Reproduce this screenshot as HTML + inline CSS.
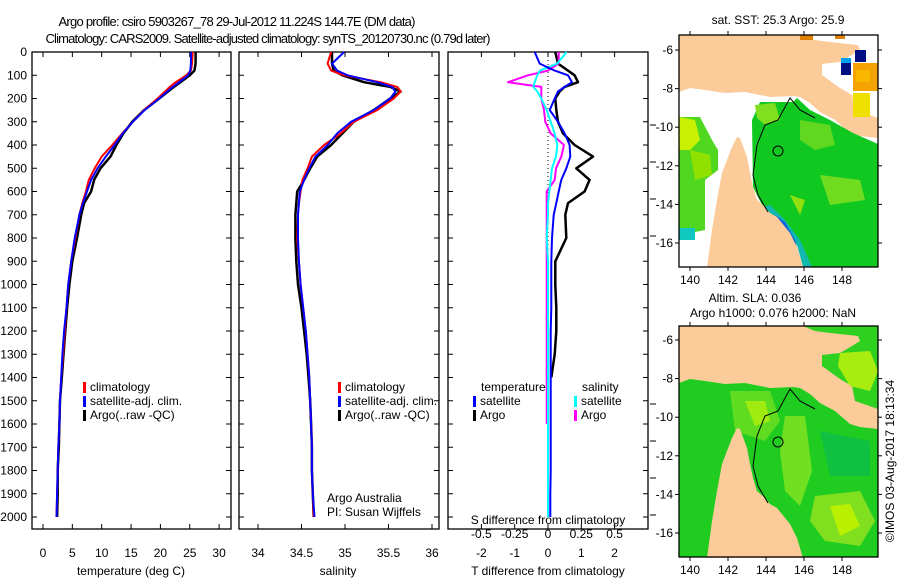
<!DOCTYPE html>
<html><head><meta charset="utf-8"><style>
html,body{margin:0;padding:0;background:#fff;}
svg{display:block;font-family:"Liberation Sans",sans-serif;}
</style></head><body>
<svg id="c" width="900" height="580" viewBox="0 0 900 580">
<g id="maps"></g>
<g id="plots"></g>
</svg>
<script>
// ---------- data ----------
const depths = [0,50,80,100,130,150,170,200,250,300,350,400,450,500,550,600,650,700,800,900,1000,1100,1200,1300,1400,1500,1600,1700,1800,1900,2000];
const tempClim = [25.5,25.4,25.2,24.4,22.6,21.6,20.8,19.5,17.2,15.3,13.5,11.8,10.0,8.8,7.8,7.3,6.7,6.2,5.5,4.8,4.3,4.0,3.7,3.4,3.1,2.9,2.8,2.6,2.5,2.4,2.3];
const tempSat = [25.2,25.2,25.1,24.7,23.2,22.1,21.2,19.8,17.3,15.3,13.6,12.2,10.7,9.3,8.2,7.5,6.8,6.2,5.4,4.8,4.3,4.0,3.6,3.3,3.1,2.9,2.8,2.6,2.5,2.4,2.3];
const tempArgo = [26.0,26.0,25.8,25.0,23.4,22.3,21.3,19.8,17.2,15.2,13.7,12.5,11.5,9.8,8.7,8.2,7.0,6.5,5.8,5.0,4.5,4.1,3.8,3.5,3.2,2.9,2.8,2.7,2.5,2.5,2.4];
const salClim = [34.84,34.80,34.84,34.99,35.41,35.60,35.64,35.56,35.37,35.10,34.95,34.76,34.62,34.57,34.51,34.49,34.47,34.46,34.45,34.47,34.49,34.52,34.55,34.57,34.59,34.60,34.61,34.62,34.62,34.63,34.64];
const salSat = [34.99,34.85,34.91,35.03,35.37,35.54,35.58,35.52,35.33,35.07,34.91,34.80,34.66,34.59,34.53,34.48,34.47,34.46,34.46,34.47,34.49,34.52,34.55,34.57,34.59,34.60,34.61,34.62,34.62,34.63,34.65];
const salArgo = [34.85,34.85,34.87,34.97,35.22,35.52,35.64,35.52,35.33,35.10,34.97,34.84,34.68,34.60,34.53,34.45,34.44,34.43,34.43,34.44,34.46,34.50,34.53,34.56,34.58,34.60,34.61,34.62,34.62,34.63,34.64];
const dTSat = [-0.4,-0.25,0.2,0.6,0.72,0.5,0.3,0.2,0.05,0.3,0.5,0.65,0.67,0.55,0.4,0.32,0.25,0.17,0.12,0.1,0.1,0.1,0.08,0.08,0.08,0.08,0.08,0.08,0.08,0.07,0.07];
const dTArgo = [0.22,0.3,0.6,0.8,0.9,0.5,0.35,0.22,0.25,0.3,0.45,0.8,1.35,0.85,1.25,1.1,0.6,0.52,0.55,0.22,0.22,0.25,0.25,0.2,0.1,0.1,0.1,0.1,0.1,0.1,0.1];
const dSSat = [0.14,0.07,-0.06,-0.08,-0.1,-0.11,-0.08,-0.05,-0.01,0.02,0.05,0.07,0.06,0.03,0.02,0.01,0.0,0.0,-0.01,0.0,0.0,0.0,0.0,0.0,0.0,0.0,0.0,0.0,0.0,0.0,0.0];
const dSArgo = [0.08,0.08,0.0,-0.15,-0.3,-0.05,-0.05,-0.05,-0.03,-0.02,0.02,0.12,0.1,0.06,0.05,-0.01,-0.01,-0.01,-0.01,-0.01,-0.01,-0.01,-0.01,-0.01,-0.01,-0.01,-0.01,-0.01,-0.01,-0.01,-0.01];
const depthTicks = [0,100,200,300,400,500,600,700,800,900,1000,1100,1200,1300,1400,1500,1600,1700,1800,1900,2000];
const tempTicks = [0,5,10,15,20,25,30];
const salTicks = [34,34.5,35,35.5,36];
const dTTicks = [-2,-1,0,1,2];
const dSTicks = [-0.5,-0.25,0,0.25,0.5];
const lonTicks = [140,142,144,146,148];
const latTicks = [-6,-8,-10,-12,-14,-16];

// ---------- helpers ----------
const NS='http://www.w3.org/2000/svg';
const svg=document.getElementById('c');
const plots=document.getElementById('plots');
const maps=document.getElementById('maps');
function mk(tag,attrs,parent){const e=document.createElementNS(NS,tag);for(const k in attrs)e.setAttribute(k,attrs[k]);(parent||plots).appendChild(e);return e;}
function txt(x,y,s,anchor,size,parent){const t=mk('text',{x:x,y:y,'font-size':size||12,'text-anchor':anchor||'start',fill:'#000'},parent);t.textContent=s;return t;}
const yD=d=>52+d*0.2325;
const xT=v=>43+v*5.87;
const xS=v=>258+(v-34)*87;
const xDT=v=>548+v*33.3;
const xDS=v=>548+v*133.2;

// ---------- titles ----------
let t=txt(237,26,'Argo profile: csiro 5903267_78 29-Jul-2012 11.224S 144.7E (DM data)','middle',13);
t.setAttribute('textLength',357);
t=txt(268,43,'Climatology: CARS2009. Satellite-adjusted climatology: synTS_20120730.nc (0.79d later)','middle',13);
t.setAttribute('textLength',445);

// ---------- panels ----------
function panel(x0,x1,name){
  const r=mk('rect',{x:x0,y:52,width:x1-x0,height:477,fill:'none',stroke:'#000','stroke-width':1.3});
  
  
  depthTicks.forEach(d=>{mk('line',{x1:x0,x2:x0+5,y1:yD(d),y2:yD(d),stroke:'#000'});mk('line',{x1:x1-5,x2:x1,y1:yD(d),y2:yD(d),stroke:'#000'});});
}
panel(32,231,'temperature-panel');
panel(239,439,'salinity-panel');
panel(448,648,'difference-panel');
depthTicks.forEach(d=>{const l=txt(27,yD(d)+4,String(d),'end',12);});
function xTicks(ticks,fx,lbly){ticks.forEach(v=>{const x=fx(v);mk('line',{x1:x,x2:x,y1:529,y2:524,stroke:'#000'});mk('line',{x1:x,x2:x,y1:52,y2:57,stroke:'#000'});const l=txt(x,lbly,String(v),'middle',12);});}
xTicks(tempTicks,xT,557);
xTicks(salTicks,xS,557);
xTicks(dTTicks,xDT,557);
dSTicks.forEach(v=>{const l=txt(xDS(v),538,String(v),'middle',12);});
[125,162,199,236,404,441,478,515].forEach(y=>mk('line',{x1:650,x2:656,y1:y,y2:y,stroke:'#000'}));
t=txt(131,575,'temperature (deg C)','middle',12);
t=txt(338,575,'salinity','middle',12);
t=txt(548,575,'T difference from climatology','middle',12);
t=txt(548,524,'S difference from climatology','middle',12);
mk('line',{x1:548,x2:548,y1:60,y2:517,stroke:'#000','stroke-dasharray':'1,3','stroke-width':1});

// ---------- series ----------
function series(vals,fx,color,w,name,maxDepth){
  const pts=[];vals.forEach((v,i)=>{if(maxDepth===undefined||depths[i]<=maxDepth)pts.push(fx(v).toFixed(1)+','+yD(depths[i]).toFixed(1));});
  const p=mk('polyline',{points:pts.join(' '),fill:'none',stroke:color,'stroke-width':w,'stroke-linejoin':'round'});
  
  
}
series(tempArgo,xT,'#000',2.5,'temp-argo-line');
series(tempClim,xT,'#f00',2,'temp-climatology-line');
series(tempSat,xT,'#00f',2,'temp-satellite-line');
series(salArgo,xS,'#000',2.5,'sal-argo-line');
series(salClim,xS,'#f00',2,'sal-climatology-line');
series(salSat,xS,'#00f',2,'sal-satellite-line');
series(dTArgo,xDT,'#000',2.5,'tdiff-argo-line',1400);
series(dSArgo,xDS,'#f0f',2,'sdiff-argo-line',1600);
series(dSSat,xDS,'#0ff',2,'sdiff-satellite-line');
series(dTSat,xDT,'#00f',2,'tdiff-satellite-line');

// ---------- legends ----------
function leg(x,y,color,label,name){const r=mk('rect',{x:x,y:y-5,width:3,height:11,fill:color});const l=txt(x+7,y+4,label,'start',12);}
leg(83,387,'#f00','climatology','legend-climatology');
leg(83,401,'#00f','satellite-adj. clim.','legend-satellite');
leg(83,415,'#000','Argo(..raw -QC)','legend-argo');
leg(338,387,'#f00','climatology','legend2-climatology');
leg(338,401,'#00f','satellite-adj. clim.','legend2-satellite');
leg(338,415,'#000','Argo(..raw -QC)','legend2-argo');
t=txt(481,391,'temperature','start',12);
t=txt(582,391,'salinity','start',12);
leg(473,401,'#00f','satellite','legend-t-satellite');
leg(473,415,'#000','Argo','legend-t-argo');
leg(574,401,'#0ff','satellite','legend-s-satellite');
leg(574,415,'#f0f','Argo','legend-s-argo');
t=txt(327,502,'Argo Australia','start',12);
t=txt(327,516,'PI: Susan Wijffels','start',12);

// ---------- maps ----------
const PEACH='#fbcb9a';
function poly(pts,fill,dy,g,name){const p=mk('polygon',{points:pts.map(q=>q[0]+','+(q[1]+dy)).join(' '),fill:fill,stroke:'none'},g);if(name){}return p;}
const northLand=[[679,35],[878,35],[878,138],[860,136],[850,133],[835,120],[820,112],[810,103],[800,97],[793,96],[770,97],[760,95],[745,92],[725,93],[705,90],[690,88],[679,92]];
const topSea=[[803,35],[878,35],[878,118],[855,110],[852,95],[840,88],[822,75],[822,64],[840,62],[852,55],[860,50],[858,45],[830,42],[815,40]];
const peninsula=[[707,267],[712,230],[717,200],[722,173],[732,147],[737,137],[740,138],[747,157],[750,173],[753,187],[757,200],[765,207],[770,213],[777,217],[790,233],[797,247],[803,267]];
function mapFrame(name){
  const g=mk('g',{},maps);
  return g;
}
// top map
let g=mapFrame('sst-map');
mk('rect',{x:679,y:35,width:199,height:232,fill:'#fff'},g);
poly(northLand,PEACH,0,g,'png-land');
poly(topSea,'#fff',0,g);
mk('rect',{x:853,y:63,width:25,height:28,fill:'#f5a300'},g);
mk('rect',{x:856,y:70,width:14,height:12,fill:'#fbb800'},g);
mk('rect',{x:853,y:93,width:17,height:24,fill:'#f0e000'},g);
mk('rect',{x:855,y:50,width:11,height:12,fill:'#001080'},g);
mk('rect',{x:841,y:63,width:10,height:12,fill:'#001080'},g);
mk('rect',{x:841,y:58,width:10,height:5,fill:'#00a0f0'},g);
mk('rect',{x:800,y:35,width:13,height:5,fill:'#e08000'},g);
mk('rect',{x:835,y:35,width:10,height:4,fill:'#e08000'},g);
poly([[760,102],[793,102],[797,98],[810,110],[830,120],[853,133],[878,144],[878,267],[810,267],[797,245],[780,222],[763,207],[753,187],[752,120]],'#10c820',0,g,'sst-green-field');
poly([[755,105],[775,103],[780,120],[765,125],[757,118]],'#80e020',0,g);
poly([[800,120],[830,125],[835,145],[815,150],[800,140]],'#60d820',0,g);
poly([[820,175],[860,180],[865,200],[830,205]],'#70dc20',0,g);
poly([[790,195],[805,200],[800,215]],'#90e010',0,g);
poly([[763,207],[780,222],[790,233],[797,245],[803,267],[812,267],[800,240],[785,220],[770,205]],'#10b8b0',0,g);
poly([[775,215],[785,222],[795,240],[800,258],[795,258],[785,240]],'#1060e0',0,g);
poly([[679,117],[700,117],[712,140],[718,150],[718,170],[705,180],[705,230],[690,233],[679,240]],'#50d820',0,g,'sst-west-field');
poly([[679,117],[695,120],[700,140],[690,150],[679,150]],'#c8f000',0,g);
poly([[690,150],[710,155],[712,175],[695,180]],'#90e000',0,g);
mk('rect',{x:679,y:228,width:16,height:12,fill:'#10c8c0'},g);
poly(peninsula,PEACH,0,g,'cape-york-land');
mk('rect',{x:679,y:35,width:199,height:232,fill:'none',stroke:'#000','stroke-width':1.3},g);
mk('polyline',{points:'768,212 758,195 753,175 757,145 765,125 778,120 790,98 800,110 815,118',fill:'none',stroke:'#000','stroke-width':1},g);
mk('circle',{cx:778,cy:151,r:5,fill:'none',stroke:'#000','stroke-width':1},g);
// bottom map
const DY=291;
g=mapFrame('sla-map');
mk('rect',{x:679,y:326,width:199,height:231,fill:'#20cc20'},g);
poly(northLand,PEACH,DY,g,'png-land-2');
poly(topSea,'#30d020',DY,g);
poly([[840,62],[870,60],[878,80],[870,100],[850,95],[838,75]],'#a8ec10',DY,g);
poly([[730,100],[770,100],[780,130],[765,150],[735,140]],'#60dc20',DY,g);
poly([[745,110],[765,110],[770,130],[755,135]],'#a0ec10',DY,g);
poly([[785,125],[805,125],[812,180],[800,215],[785,200],[780,160]],'#70e020',DY,g);
poly([[815,205],[860,200],[875,230],[860,255],[825,250],[810,230]],'#80e020',DY,g);
poly([[830,215],[850,213],[860,235],[840,245]],'#b8f000',DY,g);
poly([[820,140],[870,150],[870,185],[830,185]],'#10c040',DY,g);
poly(peninsula,PEACH,DY,g,'cape-york-land-2');
mk('rect',{x:679,y:326,width:199,height:231,fill:'none',stroke:'#000','stroke-width':1.3},g);
mk('polyline',{points:'768,503 758,486 753,466 757,436 765,416 778,411 790,389 800,401 815,409',fill:'none',stroke:'#000','stroke-width':1},g);
mk('circle',{cx:778,cy:442,r:5,fill:'none',stroke:'#000','stroke-width':1},g);
// map axes
function mapAxes(top,bottom,lat6y,lbly){
  lonTicks.forEach(lo=>{const x=690+(lo-140)*19;mk('line',{x1:x,x2:x,y1:top,y2:top-4,stroke:'#000'},maps);mk('line',{x1:x,x2:x,y1:bottom,y2:bottom+4,stroke:'#000'},maps);const l=txt(x,lbly,String(lo),'middle',12,maps);});
  latTicks.forEach(la=>{const y=lat6y+(-6-la)*19.3;mk('line',{x1:675,x2:679,y1:y,y2:y,stroke:'#000'},maps);mk('line',{x1:878,x2:882,y1:y,y2:y,stroke:'#000'},maps);const l=txt(673,y+4,String(la),'end',12,maps);});
}
mapAxes(35,267,50,284);
mapAxes(326,557,340,574);
t=txt(778,24,'sat. SST: 25.3 Argo: 25.9','middle',12,maps);
t=txt(755,302,'Altim. SLA: 0.036','middle',12,maps);
t=txt(773,317,'Argo h1000: 0.076 h2000: NaN','middle',12,maps);
t=txt(0,0,'\u00A9IMOS 03-Aug-2017 18:13:34','middle',12,maps);
t.setAttribute('transform','translate(894,461) rotate(-90)');


</script>
</body></html>
